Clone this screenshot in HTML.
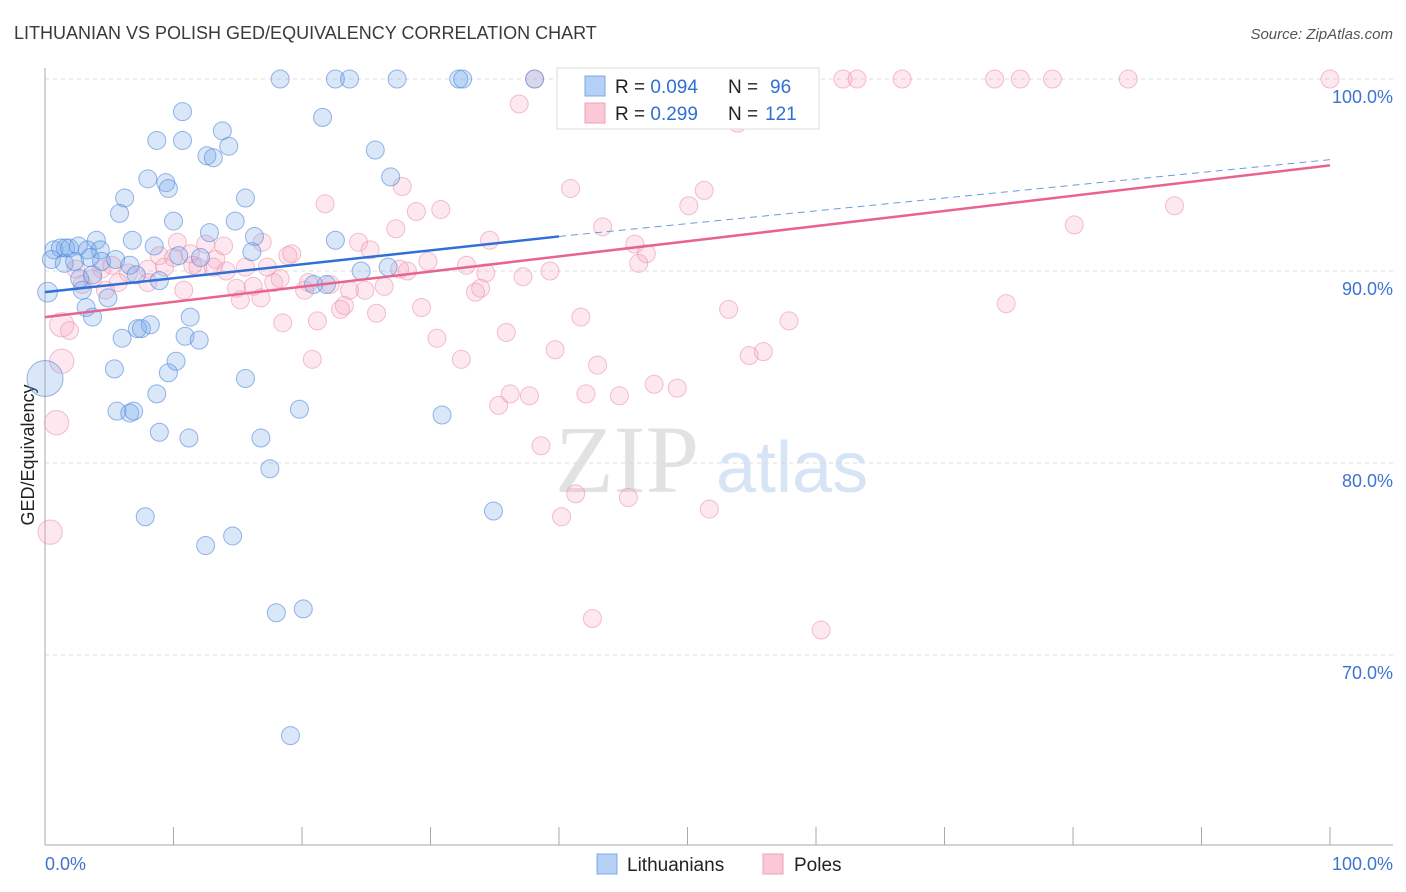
<!DOCTYPE html>
<html><head><meta charset="utf-8"><style>
body{margin:0;background:#fff;font-family:"Liberation Sans",sans-serif}
svg{display:block}
</style></head><body>
<svg id="c" width="1406" height="892">
<text x="14" y="39" font-size="18" fill="#3a3a3a">LITHUANIAN VS POLISH GED/EQUIVALENCY CORRELATION CHART</text>
<text x="1393" y="39" font-size="15" font-style="italic" fill="#555" text-anchor="end">Source: ZipAtlas.com</text>
<text x="555" y="492" font-size="96" font-family="Liberation Serif,serif" fill="#e2e2e2">ZIP</text>
<text x="716" y="492" font-size="72" fill="#d6e4f5">atlas</text>
<text transform="translate(34,455) rotate(-90)" font-size="18" fill="#222" text-anchor="middle">GED/Equivalency</text>
<g id="grid"></g><g id="pts"></g><g id="lines"></g>
<g>
<rect x="557" y="68" width="262" height="61" fill="#fff" stroke="#ddd"/>
<rect x="585" y="76" width="20" height="20" fill="#b5d0f5" stroke="#7fa8e0"/>
<rect x="585" y="103" width="20" height="20" fill="#fbc8d6" stroke="#f0a0b8"/>
<text x="615" y="93" font-size="19" fill="#222">R = <tspan fill="#2f6fd6">0.094</tspan><tspan x="728">N = </tspan><tspan fill="#2f6fd6" x="770">96</tspan></text>
<text x="615" y="120" font-size="19" fill="#222">R = <tspan fill="#2f6fd6"> 0.299</tspan><tspan x="728">N = </tspan><tspan fill="#2f6fd6" x="765">121</tspan></text>
</g>
<g>
<rect x="597" y="854" width="20" height="20" fill="#b5d0f5" stroke="#7fa8e0"/>
<text x="627" y="871" font-size="19" fill="#222">Lithuanians</text>
<rect x="763" y="854" width="20" height="20" fill="#fbc8d6" stroke="#f0a0b8"/>
<text x="794" y="871" font-size="19" fill="#222">Poles</text>
</g>
</svg>
<script>
const bx=[18.3,22.6,23.7,27.4,32.2,32.5,38.1,10.7,21.6,8.7,10.7,13.8,14.3,12.6,13.1,25.7,8.0,9.4,9.6,26.9,6.2,15.6,5.8,10.0,14.8,12.8,16.3,22.6,0.7,1.2,1.6,1.9,2.6,3.3,4.0,4.3,6.8,8.5,10.4,12.1,16.1,0.5,1.5,2.3,3.5,4.4,5.5,6.6,2.9,4.9,7.1,8.9,2.7,3.7,0.2,3.2,3.7,6.0,7.2,8.2,7.5,11.3,10.9,12.0,20.9,21.9,24.6,26.7,5.4,9.6,10.2,15.6,8.7,5.6,6.6,6.9,19.8,30.9,8.9,11.2,16.8,17.5,7.8,34.9,12.5,14.6,18.0,20.1,19.1,0.0];
const by=[100,100,100,100,100,100,100,98.3,98.0,96.8,96.8,97.3,96.5,96.0,95.9,96.3,94.8,94.6,94.3,94.9,93.8,93.8,93.0,92.6,92.6,92.0,91.8,91.6,91.1,91.2,91.2,91.2,91.3,91.1,91.6,91.1,91.6,91.3,90.8,90.7,91.0,90.6,90.4,90.5,90.7,90.5,90.6,90.3,89.0,88.6,89.8,89.5,89.6,89.8,88.9,88.1,87.6,86.5,87.0,87.2,87.0,87.6,86.6,86.4,89.3,89.3,90.0,90.2,84.9,84.7,85.3,84.4,83.6,82.7,82.6,82.7,82.8,82.5,81.6,81.3,81.3,79.7,77.2,77.5,75.7,76.2,72.2,72.4,65.8,84.4];
const bs=[1,1,1,1,1,1,1,1,1,1,1,1,1,1,1,1,1,1,1,1,1,1,1,1,1,1,1,1,1,1,1,1,1,1,1,1,1,1,1,1,1,1,1,1,1,1,1,1,1,1,1,1,1,1,1.1,1,1,1,1,1,1,1,1,1,1,1,1,1,1,1,1,1,1,1,1,1,1,1,1,1,1,1,1,1,1,1,1,1,1,2.0];
const px=[38.1,48.4,50.2,56.4,58.0,62.1,63.2,66.7,73.9,75.9,78.4,84.3,100,36.9,53.9,40.9,43.4,51.3,50.1,80.1,87.9,45.9,46.8,46.2,34.6,39.3,37.2,34.3,32.8,33.9,33.5,29.8,27.6,28.2,26.4,24.9,23.7,23.0,23.3,25.8,27.8,21.8,28.9,30.8,27.3,24.4,25.3,29.3,30.5,32.4,35.9,39.7,41.7,43.0,47.4,49.2,53.2,74.8,54.8,55.9,57.9,42.1,44.7,35.3,37.7,36.2,38.6,41.3,45.4,40.2,51.7,42.6,60.4,1.3,1.9,1.3,0.9,0.4,10.3,11.3,8.9,8.0,6.5,5.7,4.7,4.4,3.7,2.9,8.0,9.3,10.0,13.3,14.1,14.9,15.6,16.2,16.8,17.3,17.8,18.5,19.2,18.9,18.3,20.5,20.2,20.8,21.2,22.2,12.5,13.9,11.9,10.8,13.1,11.5,2.4,5.2,15.2,16.9];
const py=[100,100,100,100,100,100,100,100,100,100,100,100,100,98.7,97.7,94.3,92.3,94.2,93.4,92.4,93.4,91.4,90.9,90.4,91.6,90.0,89.7,89.9,90.3,89.1,88.9,90.5,90.1,90.0,89.2,89.0,89.0,88.0,88.2,87.8,94.4,93.5,93.1,93.2,92.2,91.5,91.1,88.1,86.5,85.4,86.8,85.9,87.6,85.1,84.1,83.9,88.0,88.3,85.6,85.8,87.4,83.6,83.5,83.0,83.5,83.6,80.9,78.4,78.2,77.2,77.6,71.9,71.3,87.2,86.9,85.3,82.1,76.4,91.5,90.9,90.8,90.1,89.9,89.4,89.0,90.1,89.6,89.3,89.4,90.2,90.7,90.6,90.0,89.1,90.2,89.2,88.6,90.2,89.4,87.3,90.9,90.8,89.6,89.4,89.0,85.4,87.4,89.3,91.4,91.3,90.2,89.0,90.2,90.3,90.1,90.3,88.5,91.5];
const ps=px.map((v,i)=>i>=73&&i<=77?(i==74?1:1.35):1);
const yTicks=[100,90,80,70];
const xTickVals=[0,10,20,30,40,50,60,70,80,90,100];
const blueLine=[0,88.9,40,91.8,100,95.8];
const pinkLine=[0,87.6,100,95.5];
const NS="http://www.w3.org/2000/svg";
const X=v=>45+v*12.85, Y=v=>79+(100-v)*19.2;
function mk(t,a,p){const e=document.createElementNS(NS,t);for(const k in a)e.setAttribute(k,a[k]);p.appendChild(e);return e;}
const grid=document.getElementById('grid');
for(const t of yTicks){
 const l=mk('line',{x1:45,x2:1393,y1:Y(t),y2:Y(t),stroke:'#dcdcdc','stroke-dasharray':'4,4'},grid);
 
 
 const tx=mk('text',{x:1393,y:Y(t)+24,'font-size':18,fill:'#3d74cf','text-anchor':'end'},grid);
 tx.textContent=t.toFixed(1)+'%';
 
 
}
const ax=mk('line',{x1:45,x2:45,y1:68,y2:845,stroke:'#aaa'},grid);


const bxl=mk('line',{x1:45,x2:1393,y1:845,y2:845,stroke:'#aaa'},grid);


for(const t of xTickVals){
 const l=mk('line',{x1:X(t),x2:X(t),y1:827,y2:845,stroke:'#aaa'},grid);
 
 
}
const xl0=mk('text',{x:45,y:870,'font-size':18,fill:'#3d74cf'},grid);xl0.textContent='0.0%';


const xl1=mk('text',{x:1393,y:870,'font-size':18,fill:'#3d74cf','text-anchor':'end'},grid);xl1.textContent='100.0%';


const pts=document.getElementById('pts');
px.forEach((v,i)=>{const c=mk('circle',{cx:X(v),cy:Y(py[i]),r:9*ps[i],fill:'rgba(248,165,190,0.25)',stroke:'rgba(235,140,170,0.55)','stroke-width':1},pts);
 
 });
bx.forEach((v,i)=>{const c=mk('circle',{cx:X(v),cy:Y(by[i]),r:9*bs[i],fill:'rgba(120,170,235,0.28)',stroke:'rgba(80,135,220,0.6)','stroke-width':1},pts);
 
 });
const lines=document.getElementById('lines');
const b1=mk('line',{x1:X(blueLine[0]),y1:Y(blueLine[1]),x2:X(blueLine[2]),y2:Y(blueLine[3]),stroke:'#2f6fd6','stroke-width':2.5},lines);


const b2=mk('line',{x1:X(blueLine[2]),y1:Y(blueLine[3]),x2:X(blueLine[4]),y2:Y(blueLine[5]),stroke:'#6b9ae0','stroke-width':1,'stroke-dasharray':'7,5'},lines);


const p1=mk('line',{x1:X(pinkLine[0]),y1:Y(pinkLine[1]),x2:X(pinkLine[2]),y2:Y(pinkLine[3]),stroke:'#e8648f','stroke-width':2.5},lines);


</script>
</body></html>
